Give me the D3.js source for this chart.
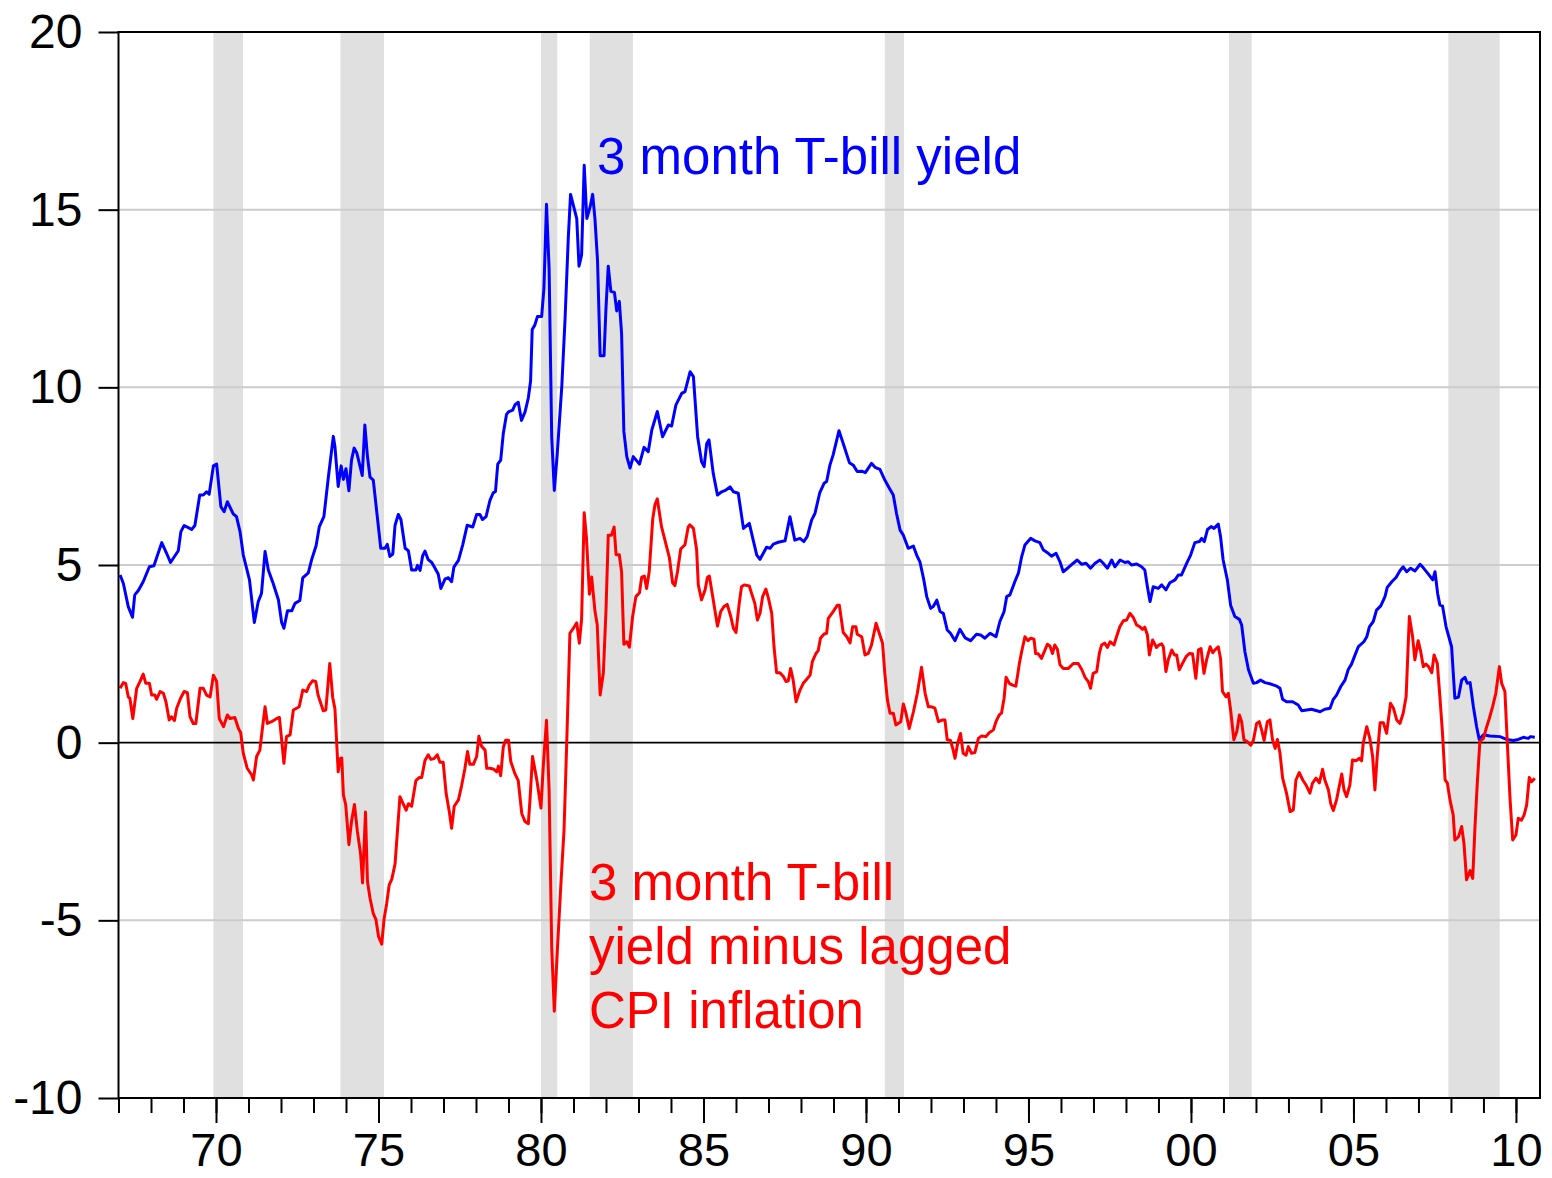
<!DOCTYPE html>
<html><head><meta charset="utf-8">
<script src="https://cdn.jsdelivr.net/npm/d3@7"></script>
<style>
body{margin:0;background:#fff}
svg{display:block}
text{font-family:"Liberation Sans",Arial,sans-serif}
</style>
</head><body>
<svg id="chart" width="1552" height="1178"></svg>
<script>
// ---------- data ----------
const yTicks = [-10, -5, 0, 5, 10, 15, 20];
const yGrid = [-5, 5, 10, 15];
const xMinorTicks = d3.range(1967, 2011);
const xMajorTicks = [1970, 1975, 1980, 1985, 1990, 1995, 2000, 2005, 2010];
const xTickLabels = ["70", "75", "80", "85", "90", "95", "00", "05", "10"];
const recessions = [[1969.92,1970.83],[1973.83,1975.17],[1980.0,1980.5],[1981.5,1982.83],[1990.58,1991.17],[2001.17,2001.87],[2007.92,2009.5]];
const seriesNames = ["3 month T-bill yield", ["3 month T-bill", "yield minus lagged", "CPI inflation"]];

const tbillYield = [
[1967.05,4.72],[1967.15,4.48],[1967.3,3.83],[1967.43,3.53],[1967.5,4.16],[1967.61,4.28],[1967.76,4.53],[1967.95,4.95],[1968.09,4.98],[1968.33,5.63],[1968.48,5.33],[1968.6,5.07],[1968.84,5.40],[1968.92,5.94],[1969.02,6.11],[1969.15,6.05],[1969.25,6.0],[1969.35,6.11],[1969.5,6.97],[1969.61,6.97],[1969.71,7.06],[1969.79,6.99],[1969.92,7.79],[1970.02,7.84],[1970.15,6.64],[1970.25,6.50],[1970.35,6.78],[1970.53,6.44],[1970.63,6.36],[1970.74,5.94],[1970.84,5.28],[1971.03,4.58],[1971.18,3.38],[1971.3,3.97],[1971.4,4.2],[1971.51,5.38],[1971.61,4.86],[1971.76,4.48],[1971.92,4.02],[1972.02,3.38],[1972.09,3.22],[1972.2,3.71],[1972.33,3.71],[1972.43,3.92],[1972.58,4.0],[1972.67,4.64],[1972.84,4.78],[1972.94,5.14],[1973.08,5.54],[1973.18,6.08],[1973.32,6.36],[1973.46,7.49],
[1973.61,8.62],[1973.66,8.33],[1973.76,7.21],[1973.85,7.79],[1973.92,7.41],[1974.0,7.71],[1974.09,7.09],[1974.17,7.95],[1974.25,8.29],[1974.33,8.16],[1974.5,7.52],[1974.58,8.94],[1974.66,8.06],[1974.74,7.47],[1974.84,7.39],[1974.94,6.55],[1975.07,5.47],[1975.2,5.47],[1975.27,5.58],[1975.35,5.24],[1975.44,5.31],[1975.51,6.12],[1975.61,6.42],[1975.69,6.28],[1975.82,5.47],[1975.92,5.40],[1976.02,4.86],[1976.15,4.86],[1976.2,4.99],[1976.28,4.85],[1976.36,5.26],[1976.43,5.39],[1976.53,5.15],[1976.64,5.07],[1976.74,4.91],[1976.84,4.74],[1976.92,4.34],[1977.05,4.61],[1977.15,4.64],[1977.25,4.53],[1977.32,4.94],[1977.46,5.13],[1977.59,5.56],[1977.73,6.12],[1977.9,6.07],[1978.02,6.42],[1978.12,6.42],[1978.2,6.28],[1978.31,6.36],[1978.43,6.82],[1978.53,7.03],[1978.6,7.07],[1978.67,7.84],[1978.76,7.95],[1978.84,8.70],[1978.94,9.24],
[1979.0,9.31],[1979.13,9.36],[1979.2,9.51],[1979.3,9.58],[1979.4,9.07],[1979.51,9.31],[1979.61,9.70],[1979.68,10.18],[1979.73,11.63],[1979.81,11.75],[1979.89,11.99],[1980.02,11.99],[1980.09,12.78],[1980.17,15.15],[1980.25,13.33],[1980.33,8.60],[1980.41,7.10],[1980.5,8.13],[1980.64,10.02],[1980.74,11.91],[1980.84,14.2],[1980.91,15.43],[1981.01,15.07],[1981.1,14.75],[1981.17,13.41],[1981.25,13.73],[1981.33,16.25],[1981.41,14.75],[1981.51,15.07],[1981.59,15.43],[1981.66,14.75],[1981.74,13.57],[1981.82,10.89],[1981.94,10.89],[1982.0,12.23],[1982.07,13.41],[1982.15,12.70],[1982.26,12.67],[1982.33,12.15],[1982.41,12.42],[1982.48,11.52],[1982.55,8.76],[1982.64,8.05],[1982.74,7.73],[1982.84,8.05],
[1983.03,7.84],[1983.17,8.31],[1983.3,8.19],[1983.41,8.80],[1983.58,9.32],[1983.74,8.61],[1983.92,8.94],[1984.02,8.91],[1984.15,9.50],[1984.33,9.83],[1984.43,9.88],[1984.59,10.44],[1984.69,10.30],[1984.82,8.61],[1984.94,7.91],[1985.02,7.77],[1985.1,8.42],[1985.17,8.52],[1985.3,7.58],[1985.43,6.97],[1985.56,7.06],[1985.69,7.11],[1985.82,7.20],[1985.92,7.06],[1986.07,7.02],[1986.23,6.03],[1986.41,6.17],[1986.53,5.70],[1986.64,5.28],[1986.74,5.16],[1986.84,5.33],[1986.94,5.50],[1987.05,5.47],[1987.15,5.59],[1987.3,5.64],[1987.51,5.68],[1987.66,6.36],[1987.81,5.70],[1987.97,5.75],[1988.09,5.66],[1988.19,5.80],[1988.33,6.27],[1988.43,6.45],[1988.58,7.04],[1988.71,7.30],[1988.79,7.35],[1988.89,7.81],[1988.99,8.10],[1989.17,8.78],[1989.3,8.42],[1989.49,7.88],[1989.61,7.81],[1989.73,7.63],[1989.87,7.64],[1989.98,7.60],[1990.17,7.86],[1990.28,7.75],[1990.43,7.69],[1990.58,7.39],[1990.72,7.16],[1990.84,6.97],[1990.94,6.45],[1991.05,5.98],
[1991.15,5.84],[1991.3,5.47],[1991.46,5.53],[1991.56,5.28],[1991.66,5.09],[1991.78,4.58],[1991.87,4.11],[1991.99,3.78],[1992.07,3.83],[1992.18,4.01],[1992.28,3.69],[1992.38,3.64],[1992.5,3.17],[1992.6,3.08],[1992.74,2.87],[1992.89,3.19],[1993.05,2.95],[1993.22,2.87],[1993.4,3.05],[1993.53,3.03],[1993.66,2.94],[1993.82,3.08],[1994.0,2.98],[1994.12,3.41],[1994.25,3.69],[1994.33,4.11],[1994.43,4.16],[1994.58,4.53],[1994.69,4.77],[1994.79,5.23],[1994.89,5.56],[1995.07,5.75],[1995.2,5.68],[1995.35,5.63],[1995.46,5.42],[1995.61,5.33],[1995.71,5.25],[1995.85,5.33],[1995.97,5.09],[1996.07,4.81],[1996.23,4.93],[1996.38,5.05],[1996.5,5.14],[1996.64,5.02],[1996.77,5.05],[1996.91,4.91],[1997.05,5.05],[1997.2,5.14],[1997.3,5.05],[1997.43,4.91],[1997.56,5.14],[1997.66,4.95],[1997.82,5.14],[1997.97,5.07],[1998.07,5.09],[1998.17,5.0],[1998.33,5.03],[1998.48,4.95],[1998.58,4.86],[1998.66,4.39],[1998.74,3.97],[1998.84,4.39],[1998.99,4.34],
[1999.1,4.44],[1999.23,4.30],[1999.35,4.50],[1999.51,4.58],[1999.61,4.72],[1999.71,4.72],[1999.87,5.05],[1999.99,5.28],[2000.12,5.63],[2000.26,5.66],[2000.33,5.75],[2000.41,5.66],[2000.51,6.0],[2000.62,6.08],[2000.71,6.03],[2000.84,6.15],[2000.91,5.80],[2000.99,5.14],[2001.12,4.58],[2001.22,3.87],[2001.35,3.55],[2001.49,3.47],[2001.56,3.31],[2001.66,2.56],[2001.77,2.05],[2001.92,1.67],[2002.02,1.69],[2002.14,1.76],[2002.28,1.69],[2002.46,1.65],[2002.64,1.59],[2002.74,1.53],[2002.82,1.22],[2002.94,1.15],[2003.13,1.15],[2003.3,1.06],[2003.41,0.90],[2003.56,0.92],[2003.71,0.94],[2003.87,0.90],[2003.97,0.87],[2004.12,0.94],[2004.28,0.97],[2004.38,1.22],[2004.48,1.34],[2004.61,1.58],[2004.74,1.76],[2004.84,2.06],[2004.94,2.21],[2005.05,2.47],[2005.15,2.70],[2005.32,2.84],[2005.41,2.98],[2005.49,3.26],[2005.61,3.41],[2005.71,3.73],[2005.84,3.85],[2005.97,4.11],[2006.04,4.37],[2006.18,4.53],[2006.31,4.65],[2006.43,4.84],[2006.53,4.95],[2006.64,4.81],[2006.76,4.91],[2006.89,4.83],[2007.05,5.02],[2007.15,4.92],[2007.3,4.75],[2007.44,4.58],[2007.51,4.81],[2007.59,4.20],[2007.66,3.87],[2007.74,3.85],[2007.85,3.26],[2008.02,2.70],[2008.12,1.25],[2008.23,1.28],[2008.33,1.76],[2008.43,1.84],[2008.5,1.67],[2008.59,1.69],[2008.69,1.01],[2008.79,0.45],[2008.87,0.09],[2009.0,0.22],[2009.2,0.19],[2009.51,0.17],[2009.71,0.09],[2009.92,0.06],[2010.07,0.09],[2010.23,0.15],[2010.38,0.12],[2010.45,0.17],[2010.58,0.15]
];

const realRate = [
[1967.05,1.53],[1967.15,1.69],[1967.22,1.67],[1967.3,1.29],[1967.35,1.25],[1967.44,0.68],[1967.56,1.53],[1967.66,1.72],[1967.76,1.93],[1967.84,1.67],[1967.95,1.67],[1968.02,1.34],[1968.12,1.34],[1968.17,1.22],[1968.28,1.44],[1968.38,1.39],[1968.46,1.15],[1968.56,0.64],[1968.63,0.73],[1968.72,0.62],[1968.79,0.97],[1968.91,1.25],[1969.02,1.44],[1969.12,1.41],[1969.2,0.73],[1969.3,0.54],[1969.38,0.54],[1969.51,1.53],[1969.61,1.53],[1969.71,1.34],[1969.82,1.29],[1969.92,1.90],[1970.02,1.72],[1970.1,0.68],[1970.23,0.45],[1970.35,0.78],[1970.43,0.68],[1970.58,0.71],[1970.69,0.40],[1970.76,0.28],[1970.84,-0.30],[1970.96,-0.72],[1971.1,-0.91],[1971.15,-1.05],[1971.25,-0.39],[1971.35,-0.21],[1971.41,0.26],[1971.51,1.01],[1971.58,0.54],[1971.71,0.59],[1971.87,0.68],[1971.95,0.71],[1972.02,0.08],[1972.09,-0.58],[1972.17,0.17],[1972.28,0.22],[1972.38,0.92],[1972.48,0.97],[1972.56,1.01],[1972.67,1.48],[1972.79,1.44],[1972.87,1.62],[1972.97,1.74],[1973.07,1.72],[1973.14,1.34],[1973.3,0.90],[1973.38,0.92],[1973.5,2.23],
[1973.59,1.28],[1973.66,0.95],[1973.76,-0.82],[1973.82,-0.45],[1973.87,-0.43],[1973.92,-1.47],[1973.99,-1.74],[1974.09,-2.87],[1974.17,-2.22],[1974.26,-1.74],[1974.35,-2.49],[1974.45,-3.14],[1974.51,-3.95],[1974.6,-1.95],[1974.66,-3.90],[1974.74,-4.38],[1974.84,-4.81],[1974.92,-4.97],[1975.0,-5.45],[1975.1,-5.67],[1975.17,-4.97],[1975.25,-4.54],[1975.33,-4.0],[1975.41,-3.84],[1975.51,-3.41],[1975.66,-1.52],[1975.74,-1.68],[1975.85,-1.90],[1975.92,-1.72],[1976.02,-1.79],[1976.15,-1.07],[1976.26,-0.98],[1976.33,-0.98],[1976.43,-0.50],[1976.53,-0.34],[1976.61,-0.47],[1976.71,-0.45],[1976.81,-0.34],[1976.89,-0.55],[1976.99,-0.55],[1977.08,-1.42],[1977.18,-1.95],[1977.25,-2.41],[1977.33,-1.79],[1977.46,-1.61],[1977.56,-1.20],[1977.66,-0.72],[1977.74,-0.25],[1977.81,-0.61],[1977.92,-0.61],[1978.02,-0.39],[1978.09,0.18],[1978.17,-0.10],[1978.28,-0.21],[1978.33,-0.72],[1978.43,-0.72],[1978.55,-0.75],[1978.64,-0.82],[1978.69,-0.66],[1978.76,-0.93],[1978.84,-0.12],[1978.91,0.07],[1979.0,0.07],[1979.07,-0.53],[1979.2,-0.88],[1979.3,-1.07],[1979.41,-2.0],[1979.51,-2.22],[1979.61,-2.28],[1979.66,-1.63],[1979.74,-0.39],[1979.87,-1.04],[1980.0,-1.84],[1980.07,-0.66],[1980.17,0.63],[1980.25,-1.34],[1980.33,-5.76],[1980.41,-7.56],[1980.5,-5.91],[1980.61,-4.02],[1980.71,-2.44],[1980.79,-0.07],[1980.89,3.08],[1981.01,3.24],[1981.1,3.37],[1981.18,2.80],[1981.25,3.48],[1981.33,6.47],[1981.4,5.76],[1981.49,4.18],[1981.56,4.66],[1981.66,3.71],[1981.73,3.32],[1981.82,1.34],[1981.92,1.97],[1982.0,3.71],[1982.07,5.84],[1982.17,5.84],[1982.25,6.07],[1982.31,5.29],[1982.41,5.29],[1982.48,4.81],[1982.55,2.77],[1982.64,2.84],[1982.72,2.69],[1982.82,3.55],[1982.92,4.11],[1983.03,4.22],[1983.1,4.66],[1983.18,4.69],[1983.25,4.34],[1983.33,4.81],[1983.44,6.31],[1983.51,6.71],[1983.58,6.86],[1983.71,6.07],[1983.82,5.68],[1983.95,5.21],[1984.05,4.50],[1984.12,4.42],[1984.2,4.81],[1984.3,5.45],[1984.43,5.57],[1984.53,6.07],[1984.58,6.13],[1984.69,6.03],[1984.79,5.42],[1984.84,4.44],[1984.94,4.02],[1985.05,4.30],[1985.12,4.65],[1985.18,4.69],[1985.3,4.02],[1985.43,3.28],[1985.53,3.69],[1985.63,3.83],[1985.73,3.89],[1985.84,3.55],[1985.92,3.22],[1986.0,3.10],[1986.1,3.92],[1986.17,4.39],[1986.25,4.44],[1986.41,4.41],[1986.48,4.20],[1986.58,3.92],[1986.66,3.45],[1986.74,3.64],[1986.82,4.11],[1986.92,4.32],[1987.0,4.06],[1987.1,3.64],[1987.17,2.70],[1987.25,1.97],[1987.35,1.97],[1987.46,1.86],[1987.54,1.72],[1987.61,1.74],[1987.68,2.09],[1987.76,1.76],[1987.85,1.15],[1987.97,1.48],[1988.07,1.67],[1988.17,1.78],[1988.28,1.90],[1988.35,2.28],[1988.46,2.51],[1988.53,2.59],[1988.6,2.94],[1988.71,3.06],[1988.79,3.08],[1988.84,3.50],[1988.99,3.69],[1989.12,3.87],[1989.18,3.87],[1989.3,3.10],[1989.41,2.98],[1989.51,2.81],[1989.59,3.26],[1989.69,3.26],[1989.73,3.05],[1989.87,2.98],[1989.97,2.47],[1990.07,2.51],[1990.17,2.75],[1990.31,3.36],[1990.41,3.08],[1990.51,2.80],[1990.58,1.95],[1990.66,1.20],[1990.74,0.83],[1990.84,0.83],[1990.92,0.50],[1991.07,0.59],[1991.15,1.09],[1991.23,0.83],[1991.33,0.40],[1991.46,0.87],[1991.58,1.39],[1991.71,2.12],[1991.82,1.39],[1991.92,1.01],[1992.02,1.01],[1992.12,0.97],[1992.23,0.59],[1992.36,0.64],[1992.43,0.64],[1992.5,0.08],[1992.6,0.06],[1992.67,-0.16],[1992.74,-0.44],[1992.82,-0.02],[1992.91,0.26],[1992.99,-0.30],[1993.08,-0.35],[1993.15,-0.11],[1993.25,-0.30],[1993.35,-0.28],[1993.46,0.12],[1993.56,0.19],[1993.69,0.17],[1993.79,0.28],[1993.92,0.36],[1994.0,0.59],[1994.1,0.78],[1994.17,0.83],[1994.25,1.25],[1994.31,1.84],[1994.41,1.67],[1994.51,1.62],[1994.61,1.59],[1994.66,1.86],[1994.72,2.23],[1994.79,2.56],[1994.89,2.98],[1994.99,2.87],[1995.07,2.94],[1995.17,2.91],[1995.22,2.51],[1995.3,2.50],[1995.4,2.37],[1995.51,2.61],[1995.58,2.77],[1995.66,2.72],[1995.74,2.51],[1995.81,2.75],[1995.89,2.63],[1995.97,2.19],[1996.07,2.09],[1996.23,2.09],[1996.38,2.23],[1996.53,2.23],[1996.64,2.06],[1996.74,1.84],[1996.84,1.72],[1996.91,1.53],[1996.99,1.95],[1997.1,2.0],[1997.18,2.51],[1997.25,2.75],[1997.35,2.80],[1997.43,2.68],[1997.51,2.84],[1997.63,2.75],[1997.71,2.98],[1997.81,3.26],[1997.92,3.43],[1998.02,3.45],[1998.12,3.64],[1998.22,3.53],[1998.33,3.31],[1998.43,3.26],[1998.51,3.19],[1998.58,3.25],[1998.66,3.03],[1998.72,2.47],[1998.82,2.89],[1998.94,2.68],[1999.02,2.75],
[1999.1,2.78],[1999.15,2.70],[1999.23,2.0],[1999.3,2.33],[1999.41,2.61],[1999.49,2.47],[1999.56,2.47],[1999.64,2.05],[1999.74,2.23],[1999.85,2.42],[1999.95,2.51],[2000.05,2.50],[2000.15,1.81],[2000.23,2.61],[2000.31,2.65],[2000.4,1.95],[2000.48,2.33],[2000.59,2.70],[2000.67,2.53],[2000.74,2.61],[2000.84,2.70],[2000.91,2.37],[2000.97,1.44],[2001.08,1.29],[2001.15,1.39],[2001.22,0.92],[2001.32,0.08],[2001.41,0.31],[2001.49,0.78],[2001.56,0.59],[2001.63,0.08],[2001.73,0.03],[2001.84,-0.07],[2001.92,0.06],[2002.02,0.54],[2002.1,0.59],[2002.18,0.34],[2002.25,0.06],[2002.35,0.59],[2002.43,0.64],[2002.51,0.08],[2002.59,-0.16],[2002.66,0.09],[2002.74,-0.30],[2002.82,-1.0],[2002.94,-1.42],[2003.05,-1.94],[2003.15,-1.89],[2003.23,-1.05],[2003.33,-0.84],[2003.44,-1.05],[2003.54,-1.19],[2003.66,-1.42],[2003.74,-1.14],[2003.85,-1.0],[2003.95,-1.13],[2004.05,-0.75],[2004.12,-1.05],[2004.23,-1.33],[2004.3,-1.71],[2004.38,-1.91],[2004.48,-1.61],[2004.56,-1.24],[2004.64,-0.88],[2004.71,-1.33],[2004.79,-1.52],[2004.89,-1.19],[2004.97,-0.49],[2005.08,-0.51],[2005.18,-0.44],[2005.25,-0.51],[2005.3,-0.02],[2005.41,0.45],[2005.51,0.09],[2005.59,-0.39],[2005.66,-1.33],[2005.73,-0.39],[2005.82,0.56],[2005.92,0.56],[2006.02,0.26],[2006.14,1.11],[2006.23,0.97],[2006.33,0.64],[2006.43,0.54],[2006.53,0.83],[2006.62,1.29],[2006.72,3.55],[2006.82,2.98],[2006.89,2.33],[2006.99,2.87],[2007.07,2.56],[2007.15,2.14],[2007.23,2.21],[2007.31,2.14],[2007.41,1.97],[2007.48,2.47],[2007.58,2.23],[2007.66,1.29],[2007.74,0.26],[2007.82,-1.05],[2007.89,-1.14],[2007.97,-1.61],[2008.07,-2.04],[2008.12,-2.74],[2008.23,-2.65],[2008.33,-2.36],[2008.4,-2.83],[2008.48,-3.86],[2008.59,-3.60],[2008.67,-3.82],[2008.74,-2.36],[2008.81,-1.14],[2008.89,0.03],[2009.0,0.12],[2009.1,0.45],[2009.18,0.68],[2009.28,1.01],[2009.38,1.39],[2009.49,2.14],[2009.56,1.67],[2009.66,1.44],[2009.73,0.08],[2009.82,-1.61],[2009.9,-2.74],[2010.0,-2.60],[2010.07,-2.13],[2010.17,-2.18],[2010.25,-2.04],[2010.33,-1.75],[2010.41,-0.98],[2010.48,-1.10],[2010.58,-1.0]
];

// ---------- drawing ----------
const L = 118.5, R = 1540, T = 32, B = 1098;
const svg = d3.select("#chart");
const x = d3.scaleLinear().domain([1967, 2010.74]).range([L, R]);
const y = d3.scaleLinear().domain([-10, 20]).range([B, T]);
const FONT = "'Liberation Sans', Arial, sans-serif";

// recession shading
svg.append("g").selectAll("rect").data(recessions).join("rect")
  .attr("x", d => x(d[0])).attr("width", d => x(d[1]) - x(d[0]))
  .attr("y", T).attr("height", B - T).attr("fill", "#e0e0e0");

// gridlines
svg.append("g").selectAll("line").data(yGrid).join("line")
  .attr("x1", L).attr("x2", R).attr("y1", d => y(d)).attr("y2", d => y(d))
  .attr("stroke", "#cccccc").attr("stroke-width", 2);

// zero line
svg.append("line").attr("x1", L).attr("x2", R).attr("y1", y(0)).attr("y2", y(0))
  .attr("stroke", "#000").attr("stroke-width", 1.6);

const line = d3.line().x(d => x(d[0])).y(d => y(d[1]));
svg.append("path").datum(tbillYield).attr("d", line)
  .attr("fill", "none").attr("stroke", "#0000ff").attr("stroke-width", 3).attr("stroke-linejoin", "round");
svg.append("path").datum(realRate).attr("d", line)
  .attr("fill", "none").attr("stroke", "#ff0000").attr("stroke-width", 3).attr("stroke-linejoin", "round");

// frame
svg.append("rect").attr("x", L).attr("y", T).attr("width", R - L).attr("height", B - T)
  .attr("fill", "none").attr("stroke", "#000").attr("stroke-width", 2);

// y axis
const yAxis = svg.append("g").attr("transform", `translate(${L},0)`)
  .call(d3.axisLeft(y).tickValues(yTicks).tickSize(20).tickPadding(16).tickFormat(d => String(d)));
yAxis.select(".domain").remove();
yAxis.selectAll("line").attr("stroke-width", 2);
yAxis.selectAll("text").attr("font-size", 48).attr("fill", "#000").attr("font-family", FONT);

// x axis minor ticks
const xMinor = svg.append("g").attr("transform", `translate(0,${B})`)
  .call(d3.axisBottom(x).tickValues(xMinorTicks).tickSize(15).tickFormat(""));
xMinor.select(".domain").remove();
xMinor.selectAll("line").attr("stroke-width", 2);

// x axis major ticks + labels
const xMajor = svg.append("g").attr("transform", `translate(0,${B})`)
  .call(d3.axisBottom(x).tickValues(xMajorTicks).tickSize(25).tickPadding(10)
    .tickFormat((d, i) => xTickLabels[i]));
xMajor.select(".domain").remove();
xMajor.selectAll("line").attr("stroke-width", 2);
xMajor.selectAll("text").attr("font-size", 47).attr("fill", "#000").attr("font-family", FONT);

// series labels
svg.append("text").attr("x", 597).attr("y", 174)
  .attr("font-size", 51).attr("fill", "#0000ff").text(seriesNames[0]);
svg.append("text").attr("x", 589).attr("y", 900)
  .attr("font-size", 51).attr("fill", "#ff0000")
  .selectAll("tspan").data(seriesNames[1]).join("tspan")
  .attr("x", 589).attr("dy", (d, i) => i === 0 ? 0 : 64).text(d => d);
</script>
</body></html>
